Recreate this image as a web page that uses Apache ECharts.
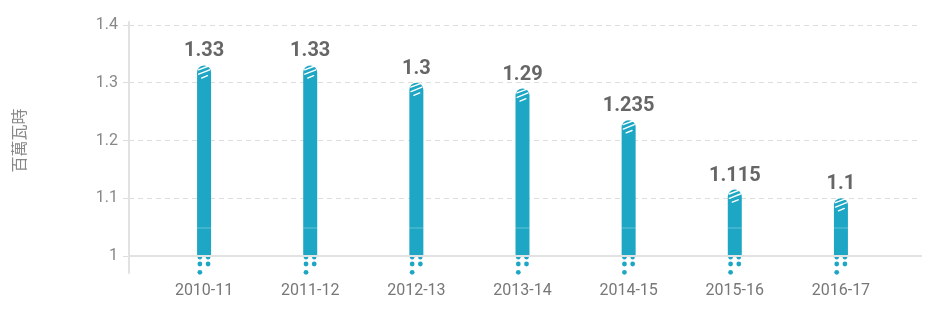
<!DOCTYPE html>
<html>
<head>
<meta charset="utf-8">
<script src="https://cdn.jsdelivr.net/npm/echarts@6/dist/echarts.min.js"></script>
<style>
html,body{margin:0;padding:0;background:#fff;}
#chart{width:932px;height:309px;}
</style>
</head>
<body>
<div id="chart"></div>
<script>
const categories = ['2010-11','2011-12','2012-13','2013-14','2014-15','2015-16','2016-17'];
const values = [1.33, 1.33, 1.3, 1.29, 1.235, 1.115, 1.1];
const yTicks = {min: 1, max: 1.4, interval: 0.1};
const yName = '百萬瓦時';

const BAR = '#1ea7c4';
const FONT = 'Roboto, "Noto Sans CJK TC", sans-serif';

const chart = echarts.init(document.getElementById('chart'), null, {renderer: 'canvas'});

function renderItem(params, api) {
  const top = api.coord([api.value(0), api.value(1)]);
  const base = api.coord([api.value(0), yTicks.min]);
  const cx = top[0], ty = top[1], by = base[1];
  const w = 14, r = 7;
  const white = {stroke: '#fff', lineWidth: 1.4, lineCap: 'round'};
  const children = [
    {type: 'rect', shape: {x: cx - w / 2, y: ty, width: w, height: by - ty + 1, r: [r, r, 0, 0]}, style: {fill: BAR}},
    {type: 'line', shape: {x1: cx - 5.6, y1: ty + 4.4, x2: cx + 4.6, y2: ty + 0.6}, style: white},
    {type: 'line', shape: {x1: cx - 5.4, y1: ty + 8.8, x2: cx + 5.6, y2: ty + 4.4}, style: white},
    {type: 'line', shape: {x1: cx - 2.5, y1: ty + 12.6, x2: cx + 3.4, y2: ty + 10.2}, style: white},
    {type: 'line', shape: {x1: cx - w / 2, y1: by - 28, x2: cx + w / 2, y2: by - 28}, style: {stroke: 'rgba(255,255,255,0.3)', lineWidth: 1}},
    {type: 'circle', shape: {cx: cx - 4.2, cy: by + 1.2, r: 2.2}, style: {fill: BAR}},
    {type: 'circle', shape: {cx: cx + 4.0, cy: by + 1.2, r: 2.2}, style: {fill: BAR}},
    {type: 'circle', shape: {cx: cx - 4.2, cy: by + 8, r: 2.4}, style: {fill: BAR}},
    {type: 'circle', shape: {cx: cx + 4.0, cy: by + 8, r: 2.4}, style: {fill: BAR}},
    {type: 'circle', shape: {cx: cx - 4.2, cy: by + 16.3, r: 2.4}, style: {fill: BAR}},
    {type: 'text', x: cx, y: ty - 4, style: {text: String(api.value(1)), fill: '#666', font: 'bold 20px ' + FONT, textAlign: 'center', textVerticalAlign: 'bottom'}}
  ];
  return {type: 'group', children: children};
}

const option = {
  animation: false,
  grid: [
    {left: 129, right: 11, top: 25, bottom: 53},
    {left: 151, right: 38, top: 25, bottom: 53},
    {left: 129, right: 11, top: 22, bottom: 36}
  ],
  xAxis: [
    {type: 'category', gridIndex: 0, data: categories, z: 5,
     axisLine: {show: true, lineStyle: {color: '#e2e2e2', width: 2}},
     axisTick: {show: false}, axisLabel: {show: false}, splitLine: {show: false}},
    {type: 'category', gridIndex: 1, data: categories,
     axisLine: {show: false}, axisTick: {show: false}, splitLine: {show: false},
     axisLabel: {color: '#777', fontSize: 16, fontFamily: FONT, margin: 27}},
    {type: 'category', gridIndex: 2, data: categories, show: false}
  ],
  yAxis: [
    {type: 'value', gridIndex: 0, min: yTicks.min, max: yTicks.max, interval: yTicks.interval,
     name: yName, nameLocation: 'middle', nameGap: 100,
     nameTextStyle: {color: '#888', fontSize: 16, fontFamily: FONT},
     axisLine: {show: false},
     axisTick: {show: true, length: 6, lineStyle: {color: '#ddd'}},
     axisLabel: {color: '#888', fontSize: 16, fontFamily: FONT, margin: 11},
     splitLine: {show: true, lineStyle: {color: '#ddd', type: [5, 4], width: 1}}},
    {type: 'value', gridIndex: 1, min: yTicks.min, max: yTicks.max, interval: yTicks.interval, show: false},
    {type: 'value', gridIndex: 2, min: 0, max: 1, show: true,
     axisLine: {show: true, lineStyle: {color: '#e2e2e2', width: 2}},
     axisTick: {show: false}, axisLabel: {show: false}, splitLine: {show: false}}
  ],
  series: [{
    type: 'custom', xAxisIndex: 1, yAxisIndex: 1, clip: false,
    renderItem: renderItem,
    encode: {x: 0, y: 1},
    data: categories.map((c, i) => [i, values[i]])
  }]
};
chart.setOption(option);
</script>
</body>
</html>
